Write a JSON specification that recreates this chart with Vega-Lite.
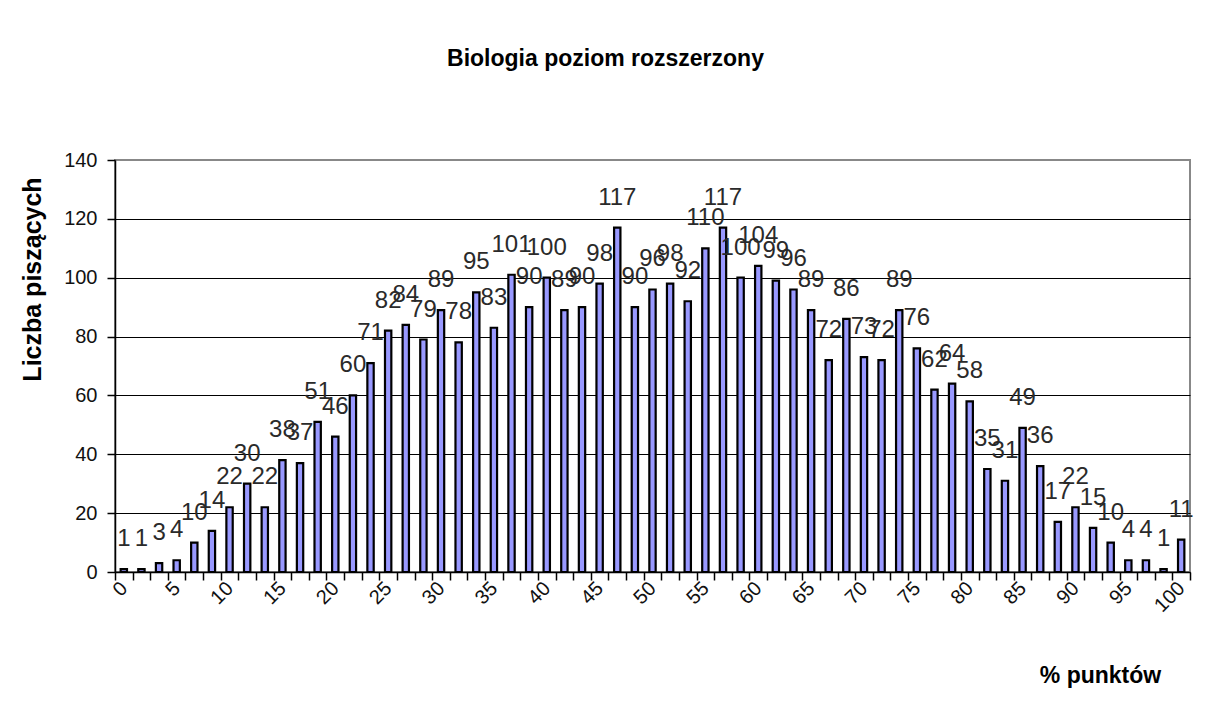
{
  "$schema": "https://vega.github.io/schema/vega-lite/v6.json",
  "width": 1075,
  "height": 412,
  "autosize": {"type": "none"},
  "padding": {"left": 115, "top": 160, "right": 30, "bottom": 132},
  "background": "white",
  "config": {
    "view": {"stroke": "#888888", "strokeWidth": 2},
    "font": "Liberation Sans"
  },
  "title": {
    "text": "Biologia poziom rozszerzony",
    "font": "Liberation Sans",
    "fontSize": 23,
    "fontWeight": "bold",
    "color": "black",
    "anchor": "middle",
    "frame": "group",
    "dx": -47,
    "baseline": "alphabetic",
    "offset": 61
  },
  "data": {
    "values": [
      {"p": 0, "n": 1}, {"p": 1, "n": 1}, {"p": 2, "n": 3}, {"p": 3, "n": 4}, {"p": 4, "n": 10},
      {"p": 5, "n": 14}, {"p": 6, "n": 22}, {"p": 7, "n": 30}, {"p": 8, "n": 22}, {"p": 9, "n": 38},
      {"p": 10, "n": 37}, {"p": 11, "n": 51}, {"p": 12, "n": 46}, {"p": 13, "n": 60}, {"p": 14, "n": 71},
      {"p": 15, "n": 82}, {"p": 16, "n": 84}, {"p": 17, "n": 79}, {"p": 18, "n": 89}, {"p": 19, "n": 78},
      {"p": 20, "n": 95}, {"p": 21, "n": 83}, {"p": 22, "n": 101}, {"p": 23, "n": 90}, {"p": 24, "n": 100},
      {"p": 25, "n": 89}, {"p": 26, "n": 90}, {"p": 27, "n": 98}, {"p": 28, "n": 117}, {"p": 29, "n": 90},
      {"p": 30, "n": 96}, {"p": 31, "n": 98}, {"p": 32, "n": 92}, {"p": 33, "n": 110}, {"p": 34, "n": 117},
      {"p": 35, "n": 100}, {"p": 36, "n": 104}, {"p": 37, "n": 99}, {"p": 38, "n": 96}, {"p": 39, "n": 89},
      {"p": 40, "n": 72}, {"p": 41, "n": 86}, {"p": 42, "n": 73}, {"p": 43, "n": 72}, {"p": 44, "n": 89},
      {"p": 45, "n": 76}, {"p": 46, "n": 62}, {"p": 47, "n": 64}, {"p": 48, "n": 58}, {"p": 49, "n": 35},
      {"p": 50, "n": 31}, {"p": 51, "n": 49}, {"p": 52, "n": 36}, {"p": 53, "n": 17}, {"p": 54, "n": 22},
      {"p": 55, "n": 15}, {"p": 56, "n": 10}, {"p": 57, "n": 4}, {"p": 58, "n": 4}, {"p": 59, "n": 1},
      {"p": 60, "n": 11}
    ]
  },
  "encoding": {
    "x": {
      "field": "p",
      "type": "ordinal",
      "sort": null,
      "scale": {"paddingInner": 0, "paddingOuter": 0},
      "axis": {
        "title": "% punktów",
        "titleFont": "Liberation Sans",
        "titleFontSize": 23,
        "titleFontWeight": "bold",
        "titleColor": "black",
        "titleX": 985,
        "titleY": 103,
        "titleAlign": "center",
        "titleBaseline": "middle",
        "tickBand": "extent",
        "tickSize": 8,
        "tickColor": "black",
        "tickWidth": 1.5,
        "domainColor": "black",
        "domainWidth": 1.5,
        "labelAngle": -45,
        "labelAlign": "right",
        "labelBaseline": "middle",
        "labelPadding": 5,
        "labelFontSize": 20,
        "labelColor": "#111111",
        "labelOverlap": false,
        "labelExpr": "datum.value % 3 == 0 ? '' + (datum.value * 5 / 3) : ''",
        "grid": false
      }
    },
    "y": {
      "field": "n",
      "type": "quantitative",
      "scale": {"domain": [0, 140], "nice": false},
      "axis": {
        "title": "Liczba piszących",
        "titleFont": "Liberation Sans",
        "titleFontSize": 25,
        "titleFontWeight": "bold",
        "titleColor": "black",
        "titleAngle": -90,
        "titleX": -83,
        "titleY": 119,
        "titleAlign": "center",
        "titleBaseline": "middle",
        "values": [0, 20, 40, 60, 80, 100, 120, 140],
        "tickSize": 8,
        "tickColor": "black",
        "tickWidth": 1.5,
        "domainColor": "black",
        "domainWidth": 1.5,
        "labelPadding": 10,
        "labelFontSize": 20,
        "labelColor": "#111111",
        "grid": true,
        "gridColor": {"condition": {"test": "datum.value == 140", "value": "#888888"}, "value": "black"},
        "gridWidth": 1.2
      }
    }
  },
  "layer": [
    {
      "mark": {"type": "bar", "fill": "#9999FF", "stroke": "black", "strokeWidth": 2.2, "width": {"band": 0.36}}
    },
    {
      "mark": {"type": "text", "baseline": "alphabetic", "dy": -23, "fontSize": 24, "font": "Liberation Sans", "fill": "#2a2a2a"},
      "encoding": {"text": {"field": "n", "type": "quantitative"}}
    }
  ]
}
